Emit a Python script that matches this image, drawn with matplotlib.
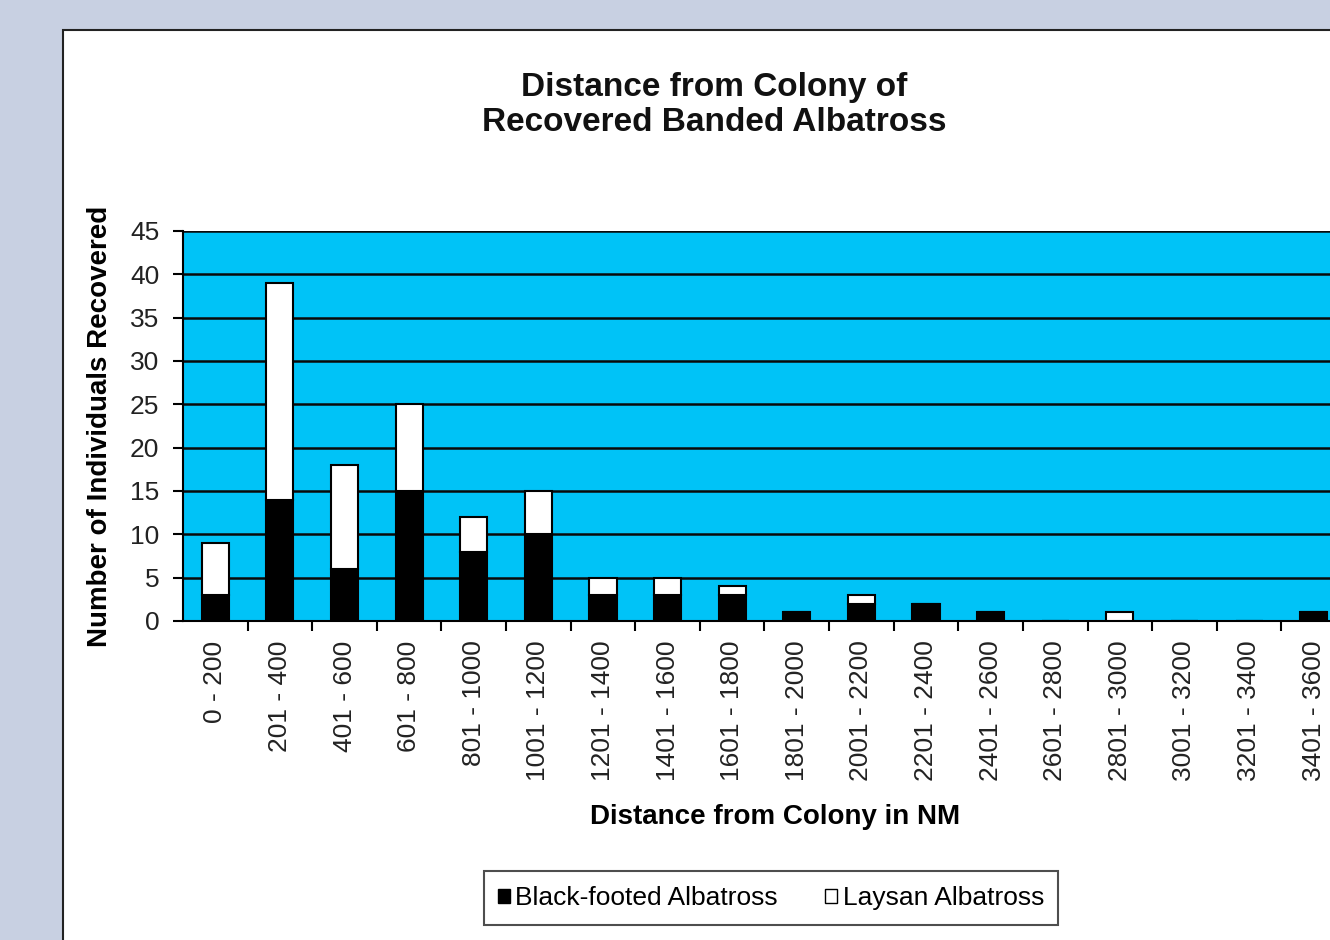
import matplotlib
matplotlib.use("Agg")
import matplotlib.pyplot as plt
from matplotlib.patches import Rectangle, Patch
import numpy as np

plt.rcParams["font.family"] = ["Liberation Sans", "DejaVu Sans"]

# distance bins (nautical miles)
categories = ["0 - 200", "201 - 400", "401 - 600", "601 - 800", "801 - 1000",
              "1001 - 1200", "1201 - 1400", "1401 - 1600", "1601 - 1800",
              "1801 - 2000", "2001 - 2200", "2201 - 2400", "2401 - 2600",
              "2601 - 2800", "2801 - 3000", "3001 - 3200", "3201 - 3400",
              "3401 - 3600"]
black_footed = [3, 14, 6, 15, 8, 10, 3, 3, 3, 1, 2, 2, 1, 0, 0, 0, 0, 1]
laysan = [6, 25, 12, 10, 4, 5, 2, 2, 1, 0, 1, 0, 0, 0, 1, 0, 0, 0]
y_ticks = [0, 5, 10, 15, 20, 25, 30, 35, 40, 45]

W, H = 1330, 940
fig = plt.figure(figsize=(W / 100, H / 100), dpi=100)
fig.patch.set_facecolor("#c8d0e2")

# white chart panel (runs off the right and bottom edge)
fig.patches.append(Rectangle((63 / W, -0.1), 1.2, 1 - 30 / H + 0.1,
                             transform=fig.transFigure, facecolor="white",
                             edgecolor="#222222", linewidth=1.5, zorder=-5))

ax = fig.add_axes([183 / W, 1 - 621 / H, 1163 / W, 390 / H])
ax.set_facecolor("#00c3f7")

x = np.arange(len(categories))
bw = 0.42
ax.bar(x, black_footed, bw, color="black", edgecolor="black", linewidth=1.5,
       zorder=3, label="Black-footed Albatross")
ax.bar(x, laysan, bw, bottom=black_footed, color="white", edgecolor="black",
       linewidth=1.5, zorder=3, label="Laysan Albatross")

ax.set_xlim(-0.5, len(categories) - 0.5)
ax.set_ylim(0, 45)
ax.set_yticks(y_ticks)
ax.yaxis.grid(True, color="#0a0a0a", linewidth=1.8, zorder=1)
ax.set_axisbelow(True)

ax.set_xticks(x)
ax.set_xticklabels(categories, rotation=90, fontsize=19, color="#222222")
ax.set_xticks(np.arange(len(categories)) + 0.5, minor=True)
ax.tick_params(axis="x", which="major", length=0, pad=14)
ax.tick_params(axis="x", which="minor", length=7, width=1.5, direction="out")
ax.tick_params(axis="y", length=7, width=1.5, labelsize=19, labelcolor="#222222",
               pad=10)

for side in ["top", "right"]:
    ax.spines[side].set_visible(False)
ax.spines["left"].set_linewidth(1.5)
ax.spines["bottom"].set_linewidth(1.5)

ax.set_ylabel("Number of Individuals Recovered", fontsize=20, fontweight="bold")
ax.yaxis.label.set_va("center")
ax.yaxis.set_label_coords(-0.0714, 0.5)
ax.set_xlabel("Distance from Colony in NM", fontsize=20, fontweight="bold")
ax.xaxis.label.set_va("center")
ax.xaxis.set_label_coords((775 - 183) / 1163, -(817 - 621) / 390)

fig.text(714 / W, 1 - 105 / H, "Distance from Colony of\nRecovered Banded Albatross",
         ha="center", va="center", fontsize=24, fontweight="bold",
         linespacing=1.2, color="#111111")

handles = [Patch(facecolor="black", edgecolor="black", label="Black-footed Albatross"),
           Patch(facecolor="white", edgecolor="black", label="Laysan Albatross")]
leg = fig.legend(handles=handles, loc="center", bbox_to_anchor=(771 / W, 1 - 898 / H),
                 ncol=2, fontsize=19, frameon=True, fancybox=False,
                 handlelength=0.45, handleheight=0.45, handletextpad=0.2,
                 columnspacing=1.8, borderpad=0.55, borderaxespad=0)
leg.get_frame().set_edgecolor("#222222")
leg.get_frame().set_linewidth(1.5)

fig.savefig("out.png", dpi=100, facecolor=fig.get_facecolor())
